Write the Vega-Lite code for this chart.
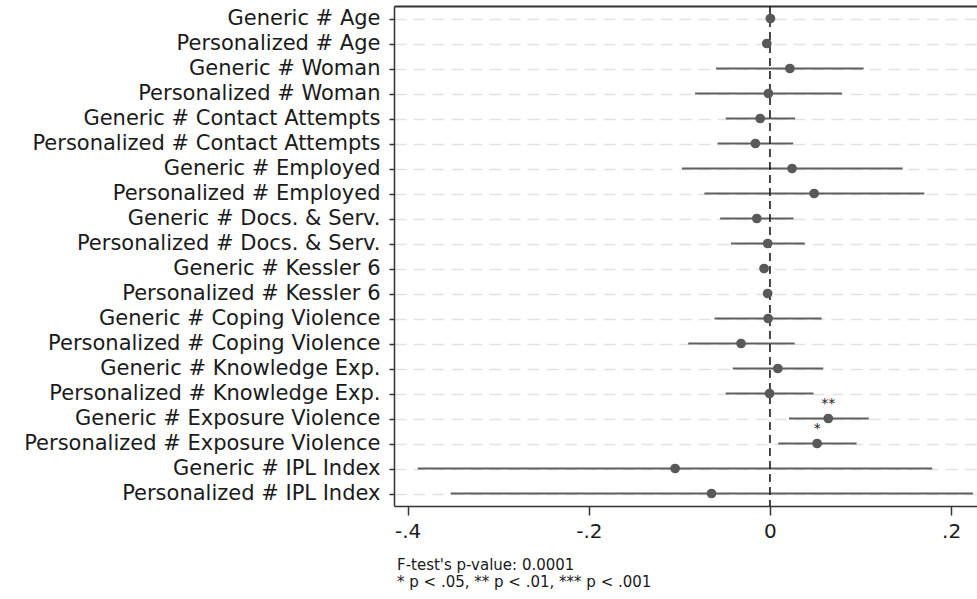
{
  "$schema": "https://vega.github.io/schema/vega-lite/v6.json",
  "width": 583,
  "height": 500,
  "autosize": {"type": "none"},
  "padding": {"left": 394, "top": 6, "right": 0, "bottom": 93},
  "background": "white",
  "config": {
    "view": {"stroke": null},
    "font": "DejaVu Sans",
    "axis": {"labelFont": "DejaVu Sans", "labelColor": "#1a1a1a", "domainColor": "#333333", "tickColor": "#333333"}
  },
  "title": {
    "text": ["F-test's p-value: 0.0001", "* p < .05, ** p < .01, *** p < .001"],
    "orient": "bottom",
    "anchor": "start",
    "frame": "group",
    "fontSize": 15,
    "fontWeight": "normal",
    "color": "#1a1a1a",
    "lineHeight": 16.5,
    "offset": 17,
    "dx": 3
  },
  "data": {
    "values": [
      {"label": "Generic # Age", "est": 0.0005, "lo": -0.002, "hi": 0.003, "star": ""},
      {"label": "Personalized # Age", "est": -0.0035, "lo": -0.006, "hi": -0.001, "star": ""},
      {"label": "Generic # Woman", "est": 0.022, "lo": -0.0596, "hi": 0.1034, "star": ""},
      {"label": "Personalized # Woman", "est": -0.0017, "lo": -0.0827, "hi": 0.0794, "star": ""},
      {"label": "Generic # Contact Attempts", "est": -0.0108, "lo": -0.0488, "hi": 0.0277, "star": ""},
      {"label": "Personalized # Contact Attempts", "est": -0.0161, "lo": -0.0579, "hi": 0.0257, "star": ""},
      {"label": "Generic # Employed", "est": 0.0244, "lo": -0.0972, "hi": 0.1465, "star": ""},
      {"label": "Personalized # Employed", "est": 0.0488, "lo": -0.0724, "hi": 0.1705, "star": ""},
      {"label": "Generic # Docs. & Serv.", "est": -0.0145, "lo": -0.055, "hi": 0.026, "star": ""},
      {"label": "Personalized # Docs. & Serv.", "est": -0.0025, "lo": -0.043, "hi": 0.0385, "star": ""},
      {"label": "Generic # Kessler 6", "est": -0.0065, "lo": -0.011, "hi": -0.002, "star": ""},
      {"label": "Personalized # Kessler 6", "est": -0.0025, "lo": -0.006, "hi": 0.001, "star": ""},
      {"label": "Generic # Coping Violence", "est": -0.002, "lo": -0.0612, "hi": 0.0571, "star": ""},
      {"label": "Personalized # Coping Violence", "est": -0.0319, "lo": -0.0902, "hi": 0.0273, "star": ""},
      {"label": "Generic # Knowledge Exp.", "est": 0.0087, "lo": -0.041, "hi": 0.0588, "star": ""},
      {"label": "Personalized # Knowledge Exp.", "est": -0.0004, "lo": -0.0488, "hi": 0.048, "star": ""},
      {"label": "Generic # Exposure Violence", "est": 0.0644, "lo": 0.021, "hi": 0.1092, "star": "**"},
      {"label": "Personalized # Exposure Violence", "est": 0.0521, "lo": 0.0092, "hi": 0.0956, "star": "*"},
      {"label": "Generic # IPL Index", "est": -0.1047, "lo": -0.3889, "hi": 0.1791, "star": ""},
      {"label": "Personalized # IPL Index", "est": -0.0645, "lo": -0.3525, "hi": 0.224, "star": ""}
    ]
  },
  "layer": [
    {
      "mark": {"type": "rule", "color": "#606060", "strokeWidth": 2},
      "encoding": {
        "y": {
          "field": "label", "type": "nominal", "sort": null,
          "scale": {"type": "point", "padding": 0.5},
          "axis": {
            "title": null, "labelFontSize": 21, "labelPadding": 9, "tickSize": 5, "tickWidth": 1.5,
            "domain": true, "domainWidth": 1.5, "grid": true, "gridColor": "#e3e3e3", "gridWidth": 1.5,
            "gridDash": [12, 7], "labelLimit": 400
          }
        },
        "x": {
          "field": "lo", "type": "quantitative",
          "scale": {"domain": [-0.4151, 0.2286], "nice": false, "zero": false},
          "axis": {
            "orient": "bottom", "title": null, "values": [-0.4, -0.2, 0, 0.2], "grid": false,
            "labelExpr": "datum.value == 0 ? '0' : (datum.value < 0 ? '-' : '') + '.' + toString(round(abs(datum.value) * 10))",
            "labelFontSize": 20, "tickSize": 9, "tickWidth": 1.5, "domainWidth": 1.5, "labelPadding": 6
          }
        },
        "x2": {"field": "hi"}
      }
    },
    {
      "data": {"values": [{"zero": 0}]},
      "mark": {"type": "rule", "color": "#1a1a1a", "strokeDash": [8, 5], "strokeWidth": 1.6},
      "encoding": {
        "x": {
          "field": "zero", "type": "quantitative",
          "scale": {"domain": [-0.4151, 0.2286], "nice": false, "zero": false},
          "axis": {"orient": "top", "labels": false, "ticks": false, "grid": false, "domain": true, "domainWidth": 2, "domainColor": "#333333", "title": null}
        }
      }
    },
    {
      "mark": {"type": "point", "filled": true, "opacity": 1, "color": "#595959", "size": 95},
      "encoding": {
        "y": {"field": "label", "type": "nominal", "sort": null},
        "x": {"field": "est", "type": "quantitative", "axis": null, "scale": {"domain": [-0.4151, 0.2286], "nice": false, "zero": false}}
      }
    },
    {
      "transform": [{"filter": "datum.star != ''"}],
      "mark": {"type": "text", "fontSize": 14, "color": "#1a1a1a", "dy": -15, "baseline": "middle"},
      "encoding": {
        "y": {"field": "label", "type": "nominal", "sort": null},
        "x": {"field": "est", "type": "quantitative", "axis": null, "scale": {"domain": [-0.4151, 0.2286], "nice": false, "zero": false}},
        "text": {"field": "star"}
      }
    }
  ],
  "resolve": {"axis": {"x": "independent"}}
}
